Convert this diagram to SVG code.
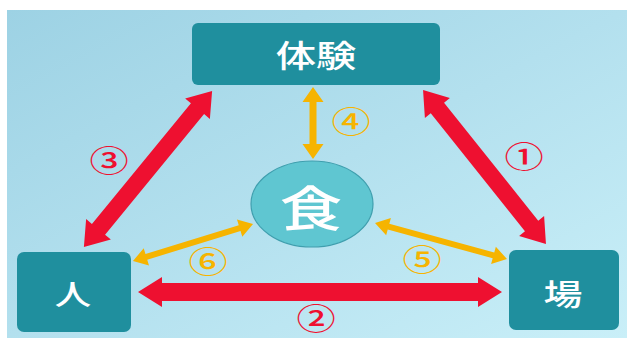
<svg xmlns="http://www.w3.org/2000/svg" width="627" height="340" viewBox="0 0 627 340">
  <defs>
    <linearGradient id="bg" x1="0" y1="0" x2="1" y2="1">
      <stop offset="0" stop-color="#9dd2e4"/>
      <stop offset="0.5" stop-color="#b3e0ee"/>
      <stop offset="1" stop-color="#c9eff8"/>
    </linearGradient>
    <style>
      .box { fill: #1f8f9e; }
      .lbl { font-family: "Noto Sans CJK JP", "Noto Sans", sans-serif; fill: #ffffff; font-weight: 500; text-anchor: middle; dominant-baseline: central; }
      .num { font-family: "Noto Sans CJK JP", "Noto Sans", sans-serif; text-anchor: middle; dominant-baseline: central; font-size: 29px; font-weight: 500; }
      .red { fill: #ee1030; }
      .org { fill: #f6b400; }
    </style>
  </defs>
  <rect x="0" y="0" width="627" height="340" fill="#ffffff"/>
  <rect x="7" y="10" width="620" height="328" fill="url(#bg)"/>

  <g id="connectors">
    <!-- ② horizontal 人-場 -->
    <polygon class="red" transform="translate(320,292)" points="-182,0 -158,-15 -158,-9 158,-9 158,-15 182,0 158,15 158,9 -158,9 -158,15"/>
    <!-- ③ 人-体験 -->
    <polygon class="red" transform="translate(148,169) rotate(-50.6)" points="-101,0 -78,-16 -78,-8.5 78,-8.5 78,-16 101,0 78,16 78,8.5 -78,8.5 -78,16"/>
    <!-- ① 場-体験 -->
    <polygon class="red" transform="translate(484.5,167) rotate(51.4)" points="-98.5,0 -75.5,-16 -75.5,-8.5 75.5,-8.5 75.5,-16 98.5,0 75.5,16 75.5,8.5 -75.5,8.5 -75.5,16"/>
    <!-- ④ 体験-食 -->
    <polygon class="org" transform="translate(313,123) rotate(90)" points="-36,0 -21,-10.5 -21,-3.5 21,-3.5 21,-10.5 36,0 21,10.5 21,3.5 -21,3.5 -21,10.5"/>
    <!-- ⑥ 人-食 -->
    <polygon class="org" transform="translate(193,242.5) rotate(-17.1)" points="-62.8,0 -48.8,-9 -48.8,-3 48.8,-3 48.8,-9 62.8,0 48.8,9 48.8,3 -48.8,3 -48.8,9"/>
    <!-- ⑤ 場-食 -->
    <polygon class="org" transform="translate(441,241) rotate(15.3)" points="-68.4,0 -54.4,-9 -54.4,-3 54.4,-3 54.4,-9 68.4,0 54.4,9 54.4,3 -54.4,3 -54.4,9"/>

    <text class="num red" transform="translate(524,155) scale(1.35,1)">①</text>
    <text class="num red" transform="translate(316,317) scale(1.35,1)">②</text>
    <text class="num red" transform="translate(109,159) scale(1.35,1)">③</text>
    <text class="num org" transform="translate(351,120) scale(1.35,1)">④</text>
    <text class="num org" transform="translate(422,258) scale(1.35,1)">⑤</text>
    <text class="num org" transform="translate(208,260) scale(1.35,1)">⑥</text>
  </g>

  <g id="node-taiken">
    <rect class="box" x="192" y="23" width="248" height="62" rx="6"/>
    <text class="lbl" font-size="31" transform="translate(316,53) scale(1.3,1)">体験</text>
  </g>
  <g id="node-hito">
    <rect class="box" x="17" y="252" width="114" height="80" rx="7"/>
    <text class="lbl" font-size="28" transform="translate(73,292) scale(1.3,1)">人</text>
  </g>
  <g id="node-ba">
    <rect class="box" x="509" y="250" width="110" height="80" rx="7"/>
    <text class="lbl" font-size="30" transform="translate(563,292) scale(1.3,1)">場</text>
  </g>
  <g id="node-shoku">
    <ellipse cx="312" cy="204" rx="61" ry="43" fill="#5fc6d1" stroke="#3f9fae" stroke-width="1.2"/>
    <text class="lbl" font-size="48" font-weight="400" transform="translate(311,205) scale(1.3,1)">食</text>
  </g>
</svg>
